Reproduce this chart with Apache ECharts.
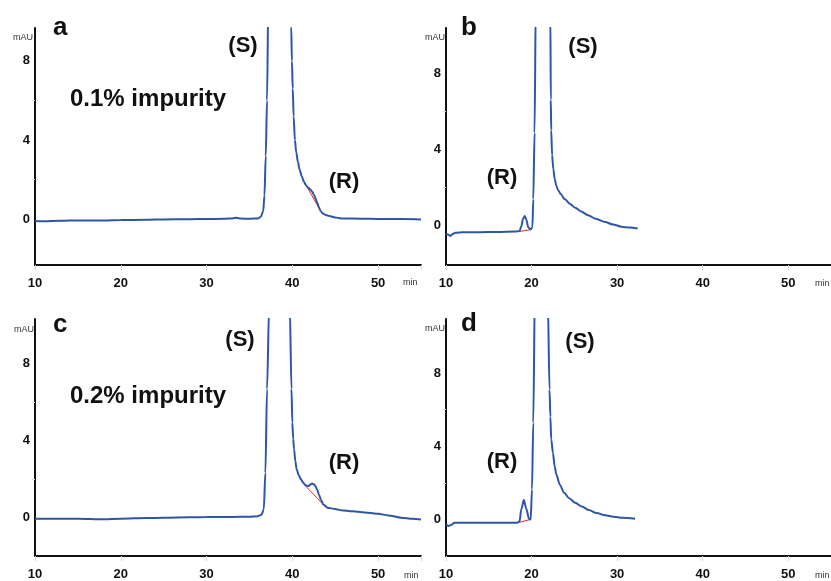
<!DOCTYPE html>
<html>
<head>
<meta charset="utf-8">
<script src="https://cdn.jsdelivr.net/npm/echarts@6/dist/echarts.min.js"></script>
<style>
html,body{margin:0;padding:0;background:#fff;}
#chart{width:831px;height:581px;}
</style>
</head>
<body>
<div id="chart"></div>
<script>
// ---- data (time in min, absorbance in mAU) ----
var xTickLabels = [10, 20, 30, 40, 50];
var yTickLabels = [0, 4, 8];

// panel a : 0.1% impurity, (S) first
var timeA = [10, 11, 13, 15, 18, 20, 23, 25, 28, 30, 32, 33, 33.5, 34, 35, 36, 36.3, 36.6, 36.75, 36.9, 37.05, 37.2, 37.6, 38.4, 39.2, 39.7, 39.87, 39.95, 40.05, 40.15, 40.3, 40.45, 40.65, 40.85, 41.1, 41.35, 41.6, 41.85, 42.1, 42.3, 42.5, 42.7, 42.9, 43.1, 43.3, 43.55, 43.8, 44.3, 45, 45.7, 47, 49, 51, 53, 55];
var signalA = [-0.08, -0.1, -0.07, -0.05, -0.06, -0.03, -0.02, 0, 0.01, 0.02, 0.03, 0.05, 0.08, 0.04, 0.03, 0.05, 0.12, 0.4, 1.2, 3.2, 6.0, 11, 40, 70, 40, 13, 9.7, 8.0, 6.6, 5.2, 4.0, 3.4, 2.9, 2.5, 2.18, 1.9, 1.72, 1.6, 1.51, 1.4, 1.26, 1.06, 0.84, 0.6, 0.42, 0.3, 0.24, 0.17, 0.1, 0.05, 0.04, 0.03, 0.02, 0.02, 0.0];
var baseTimeA = [41.7, 43.3];
var baseA = [1.65, 0.42];

// panel b : (R) first
var timeB = [10, 10.3, 10.5, 10.8, 11.1, 12, 14, 16, 18.1, 18.6, 18.8, 19.0, 19.2, 19.4, 19.6, 19.9, 20.1, 20.2, 20.35, 20.5, 20.8, 21.4, 22.0, 22.2, 22.25, 22.3, 22.4, 22.55, 22.7, 22.9, 23.15, 23.4, 23.9, 24.5, 25.1, 25.8, 26.6, 27.5, 28.6, 29.5, 30.5, 31.5, 32.4];
var signalB = [-0.44, -0.5, -0.56, -0.45, -0.39, -0.37, -0.36, -0.35, -0.33, -0.3, -0.05, 0.35, 0.49, 0.3, -0.1, -0.21, -0.1, 1.37, 4.88, 12, 40, 70, 40, 11, 6.63, 5.0, 3.7, 2.95, 2.45, 2.07, 1.82, 1.65, 1.37, 1.12, 0.93, 0.73, 0.53, 0.35, 0.17, 0.05, -0.07, -0.12, -0.17];
var baseTimeB = [18.5, 20.0];
var baseB = [-0.33, -0.22];

// panel c : 0.2% impurity, (S) first
var timeC = [10, 12, 15, 18, 20, 23, 25, 28, 30, 33, 35, 36, 36.4, 36.67, 36.86, 37.05, 37.3, 37.7, 38.5, 39.3, 39.7, 39.9, 40.0, 40.1, 40.2, 40.35, 40.5, 40.75, 41.0, 41.3, 41.55, 41.9, 42.1, 42.3, 42.5, 42.7, 42.9, 43.1, 43.35, 43.6, 44.1, 45, 45.7, 47, 48.8, 50, 51.2, 52.7, 54, 55];
var signalC = [-0.05, -0.06, -0.05, -0.08, -0.05, -0.02, 0, 0.02, 0.03, 0.04, 0.05, 0.08, 0.15, 0.43, 2.34, 6.67, 11, 40, 70, 40, 11, 6.7, 4.94, 4.1, 3.55, 2.95, 2.51, 2.2, 1.99, 1.8, 1.68, 1.64, 1.72, 1.78, 1.74, 1.64, 1.45, 1.21, 0.92, 0.69, 0.52, 0.45, 0.39, 0.33, 0.26, 0.2, 0.12, 0, -0.06, -0.09];
var baseTimeC = [41.5, 43.8];
var baseC = [1.66, 0.6];

// panel d : (R) first
var timeD = [10, 10.3, 10.6, 11.0, 12, 14, 16, 18.3, 18.6, 18.8, 19.1, 19.4, 19.7, 19.9, 20.05, 20.2, 20.4, 20.8, 21.2, 21.7, 21.9, 22.1, 22.2, 22.3, 22.5, 22.7, 22.9, 23.3, 23.8, 24.4, 25.1, 25.9, 26.7, 27.6, 28.6, 29.6, 30.6, 32.1];
var signalD = [-0.27, -0.36, -0.3, -0.18, -0.18, -0.19, -0.18, -0.18, -0.1, 0.55, 1.06, 0.55, 0.04, 0.0, 1.64, 5.28, 13, 45, 70, 40, 12, 7.1, 5.6, 4.37, 3.64, 2.9, 2.45, 1.9, 1.46, 1.15, 0.91, 0.7, 0.51, 0.35, 0.22, 0.15, 0.09, 0.04];
var baseTimeD = [18.3, 19.9];
var baseD = [-0.19, 0.0];

// ---- build ----
function pairs(t, v) { return t.map(function (x, i) { return [x, v[i]]; }); }

var FONT = '"Liberation Sans", Arial, sans-serif';
var grids = [
  {left: 35, top: 28, width: 386, height: 237},
  {left: 446, top: 28, width: 386, height: 237},
  {left: 35, top: 319, width: 386, height: 237},
  {left: 446, top: 319, width: 386, height: 237}
];
var yRanges = [[-2.3, 9.65], [-2.09, 10.4], [-1.99, 10.32], [-2.0, 10.95]];

var xAxes = grids.map(function (g, i) {
  return {
    type: 'value', gridIndex: i, min: 10, max: 55, interval: 10,
    axisLine: {show: true, onZero: false, lineStyle: {color: '#111', width: 2}},
    axisTick: {show: true, length: 5, lineStyle: {color: '#d8d8d8', width: 1}},
    minorTick: {show: false},
    splitLine: {show: false},
    axisLabel: {customValues: xTickLabels, margin: 12, color: '#111', fontSize: 13, fontWeight: 'bold', fontFamily: FONT}
  };
});
var yAxes = grids.map(function (g, i) {
  return {
    type: 'value', gridIndex: i, min: yRanges[i][0], max: yRanges[i][1],
    axisLine: {show: true, onZero: false, lineStyle: {color: '#111', width: 2}},
    axisTick: {show: true, customValues: [2, 6], length: 3, lineStyle: {color: '#dddddd', width: 1}},
    splitLine: {show: false},
    axisLabel: {customValues: yTickLabels, margin: 5, color: '#111', fontSize: 13, fontWeight: 'bold', fontFamily: FONT}
  };
});

var traces = [[timeA, signalA, baseTimeA, baseA], [timeB, signalB, baseTimeB, baseB],
              [timeC, signalC, baseTimeC, baseC], [timeD, signalD, baseTimeD, baseD]];
var series = [];
traces.forEach(function (tr, i) {
  series.push({
    type: 'line', xAxisIndex: i, yAxisIndex: i, data: pairs(tr[2], tr[3]),
    showSymbol: false, clip: true, z: 2,
    lineStyle: {color: '#e8262a', width: 1}
  });
  series.push({
    type: 'line', xAxisIndex: i, yAxisIndex: i, data: pairs(tr[0], tr[1]),
    showSymbol: false, clip: true, z: 3, smooth: 0.3, smoothMonotone: 'x',
    lineStyle: {color: '#2f56a6', width: 2}
  });
});

function txt(x, y, s, size, align, weight, color) {
  return {type: 'text', x: x, y: y, silent: true,
    style: {text: s, fontSize: size, fontWeight: weight || 'bold', fontFamily: FONT,
      fill: color || '#111', align: align || 'center', verticalAlign: 'middle'}};
}
var graphics = [
  txt(53, 28, 'a', 26, 'left'), txt(461, 28, 'b', 26, 'left'),
  txt(53, 325, 'c', 26, 'left'), txt(461, 324, 'd', 26, 'left'),
  txt(243, 46, '(S)', 22), txt(344, 182, '(R)', 22),
  txt(583, 47, '(S)', 22), txt(502, 178, '(R)', 22),
  txt(240, 340, '(S)', 22), txt(344, 463, '(R)', 22),
  txt(580, 342, '(S)', 22), txt(502, 462, '(R)', 22),
  txt(70, 99, '0.1% impurity', 24, 'left'),
  txt(70, 396, '0.2% impurity', 24, 'left'),
  txt(33, 38, 'mAU', 9, 'right', 'normal', '#333'), txt(445, 38, 'mAU', 9, 'right', 'normal', '#333'),
  txt(34, 330, 'mAU', 9, 'right', 'normal', '#333'), txt(445, 329, 'mAU', 9, 'right', 'normal', '#333'),
  txt(403, 283, 'min', 9, 'left', 'normal', '#333'), txt(815, 284, 'min', 9, 'left', 'normal', '#333'),
  txt(404, 576, 'min', 9, 'left', 'normal', '#333'), txt(815, 576, 'min', 9, 'left', 'normal', '#333')
];

var chart = echarts.init(document.getElementById('chart'));
chart.setOption({
  animation: false,
  backgroundColor: '#fff',
  grid: grids,
  xAxis: xAxes,
  yAxis: yAxes,
  series: series,
  graphic: graphics
});
</script>
</body>
</html>
